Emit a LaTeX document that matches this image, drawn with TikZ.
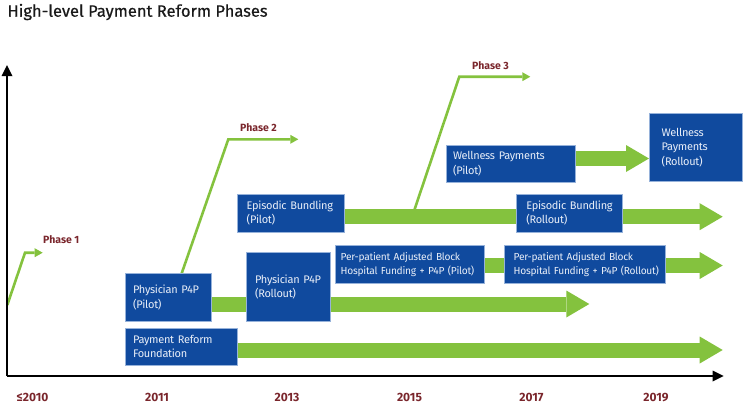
\documentclass[tikz,border=0pt]{standalone}
\usepackage{fontspec}
\setmainfont{Fira Sans}
\newfontfamily\boxfont[LetterSpace=-2.5]{Fira Sans}
\newfontfamily\titlefont[FakeBold=0.6]{Fira Sans}
\usetikzlibrary{arrows.meta}
\definecolor{pgreen}{RGB}{132,194,62}
\definecolor{pblue}{RGB}{16,74,158}
\definecolor{pedge}{RGB}{150,178,218}
\definecolor{ptext}{RGB}{232,238,248}
\definecolor{pred}{RGB}{122,38,44}
\pgfdeclarelayer{bg}
\pgfsetlayers{bg,main}
\tikzset{
  box/.style={fill=pblue, draw=pedge, line width=0.6pt, outer sep=0pt, inner ysep=0pt,
    anchor=north west, align=left, text=ptext,
    font=\boxfont\fontsize{11}{14.4}\selectfont},
  smallbox/.style={box, font=\boxfont\fontsize{10.2}{14}\selectfont},
  bar/.style={draw=pgreen, line width=#1, line cap=butt,
    -{Triangle[length=23pt,width=27pt,line width=0pt]}},
  bar/.default=15pt,
  phaseline/.style={draw=pgreen, line width=2.6pt, line join=miter,
    -{Triangle[length=8pt,width=9pt,line width=0pt]}},
  axisline/.style={draw=black, line width=1.8pt,
    -{Triangle[length=11pt,width=11pt,line width=0pt]}},
  year/.style={text=pred, font=\bfseries\fontsize{12}{14}\selectfont, anchor=base, inner sep=0pt},
  phaselbl/.style={text=pred, font=\bfseries\fontsize{10.5}{12}\selectfont, anchor=base west, inner sep=0pt},
  title/.style={text=black!90, font=\titlefont\fontsize{16.5}{20}\selectfont, anchor=base west, inner sep=0pt},
}
\begin{document}
\hyphenpenalty=10000\relax
\exhyphenpenalty=10000\relax
\begin{tikzpicture}[x=1pt,y=-1pt]
\useasboundingbox (0,0) rectangle (744,408);

% title
\node[title] (ttl) at (7.3,16.7) {High-level Payment Reform Phases};

% axes
\coordinate (origin) at (7,376);
\coordinate (ytip) at (7,65);
\coordinate (xtip) at (723.7,376);
\draw[axisline] (origin) -- (ytip);
\draw[axisline] (origin) -- (xtip);

% years
\node[year] (y2010) at (32.5,401.2) {≤2010};
\node[year] (y2011) at (157,401.2) {2011};
\node[year] (y2013) at (287,401.2) {2013};
\node[year] (y2015) at (409.5,401.2) {2015};
\node[year] (y2017) at (531.5,401.2) {2017};
\node[year] (y2019) at (656,401.2) {2019};

% boxes
\node[box, text width=96pt, inner xsep=8pt, minimum height=37pt] (found) at (125,328)
  {Payment~Reform\\Foundation};
\node[box, text width=70.5pt, inner xsep=8pt, minimum height=48.2pt] (pppilot) at (125,273.3)
  {Physician~P4P\\(Pilot)};
\node[box, text width=67.2pt, inner xsep=8.3pt, minimum height=68.3pt] (pproll) at (246.7,252.7)
  {Physician~P4P\\(Rollout)};
\node[smallbox, text width=138.4pt, inner xsep=5.2pt, minimum height=38pt] (papilot) at (335.5,245.3)
  {Per-patient~Adjusted~Block\\Hospital~Funding~+~P4P~(Pilot)};
\node[smallbox, text width=142.6pt, inner xsep=9pt, minimum height=38pt] (paroll) at (504.7,245.3)
  {Per-patient~Adjusted~Block\\Hospital~Funding~+~P4P~(Rollout)};
\node[box, text width=88.2pt, inner xsep=9.4pt, minimum height=38pt] (ebpilot) at (237.3,194)
  {Episodic~Bundling\\(Pilot)};
\node[box, text width=86.4pt, inner xsep=10pt, minimum height=38pt] (ebroll) at (516.3,194)
  {Episodic~Bundling\\(Rollout)};
\node[box, text width=115.3pt, inner xsep=7pt, minimum height=37.3pt] (wppilot) at (446,145)
  {Wellness~Payments\\(Pilot)};
\node[box, text width=68.3pt, inner xsep=12.7pt, minimum height=68.4pt] (wproll) at (649,113.3)
  {Wellness\\Payments\\(Rollout)};

% phase labels
\node[phaselbl] (ph1) at (43,243.1) {Phase 1};
\node[phaselbl] (ph2) at (240,131.3) {Phase 2};
\node[phaselbl] (ph3) at (472,69.3) {Phase 3};

% end coordinates
\coordinate (fend) at (722.7,350);
\coordinate (pend) at (589.3,304);
\coordinate (aend) at (722.7,265.5);
\coordinate (eend) at (722.7,216.7);
\coordinate (wend) at (649,158.5);
\coordinate (p1s) at (7.3,305);
\coordinate (p1c) at (25,252.7);
\coordinate (p1e) at (42.7,252.7);
\coordinate (p2s) at (181.7,273.3);
\coordinate (p2c) at (228.3,139.3);
\coordinate (p2e) at (298.3,139.3);
\coordinate (p3s) at (413.7,212);
\coordinate (p3c) at (459.3,76.7);
\coordinate (p3e) at (530.3,76.7);

\begin{pgfonlayer}{bg}
\draw[bar] (found.center |- fend) -- (fend);
\draw[bar] (pppilot.center |- pend) -- (pend);
\draw[bar=14.4pt] (papilot.center |- aend) -- (aend);
\draw[bar=14.6pt] (ebpilot.center |- eend) -- (eend);
\draw[bar=14.3pt] (wppilot.center |- wend) -- (wend);
\draw[phaseline] (p1s) -- (p1c) -- (p1e);
\draw[phaseline] (p2s) -- (p2c) -- (p2e);
\draw[phaseline] (p3s) -- (p3c) -- (p3e);
\end{pgfonlayer}
\end{tikzpicture}
\end{document}
